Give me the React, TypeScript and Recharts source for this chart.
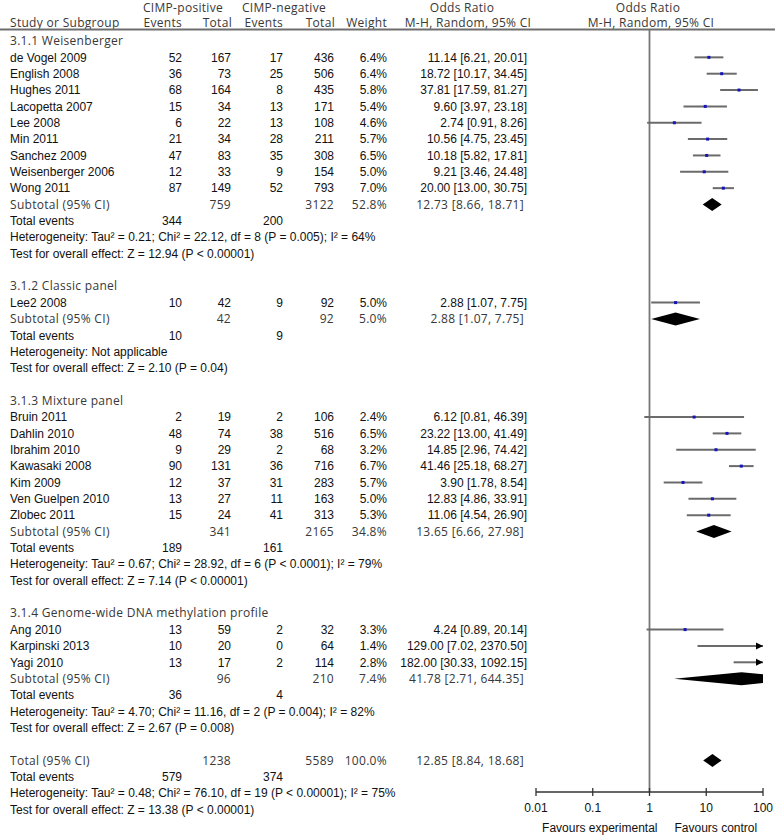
import React from 'react';
import { ScatterChart, Scatter, XAxis, YAxis, ReferenceLine } from 'recharts';

const BODY = '"Liberation Sans", Arial, sans-serif';
const HEAD = '"Open Sans", "DejaVu Sans", sans-serif';

// subgroups
const groupTitles = [
  '3.1.1 Weisenberger',
  '3.1.2 Classic panel',
  '3.1.3 Mixture panel',
  '3.1.4 Genome-wide DNA methylation profile',
];
const groupPosTotal = [759, 42, 341, 96];
const groupNegTotal = [3122, 92, 2165, 210];
const groupWeight = [52.8, 5.0, 34.8, 7.4];
const groupOR = [12.73, 2.88, 13.65, 41.78];
const groupLow = [8.66, 1.07, 6.66, 2.71];
const groupHigh = [18.71, 7.75, 27.98, 644.35];
const groupPosEvents = [344, 10, 189, 36];
const groupNegEvents = [200, 9, 161, 4];
const groupHet = [
  'Heterogeneity: Tau² = 0.21; Chi² = 22.12, df = 8 (P = 0.005); I² = 64%',
  'Heterogeneity: Not applicable',
  'Heterogeneity: Tau² = 0.67; Chi² = 28.92, df = 6 (P < 0.0001); I² = 79%',
  'Heterogeneity: Tau² = 4.70; Chi² = 11.16, df = 2 (P = 0.004); I² = 82%',
];
const groupTest = [
  'Test for overall effect: Z = 12.94 (P < 0.00001)',
  'Test for overall effect: Z = 2.10 (P = 0.04)',
  'Test for overall effect: Z = 7.14 (P < 0.00001)',
  'Test for overall effect: Z = 2.67 (P = 0.008)',
];

// studies
const studies = [
  'de Vogel 2009', 'English 2008', 'Hughes 2011', 'Lacopetta 2007', 'Lee 2008',
  'Min 2011', 'Sanchez 2009', 'Weisenberger 2006', 'Wong 2011',
  'Lee2 2008',
  'Bruin 2011', 'Dahlin 2010', 'Ibrahim 2010', 'Kawasaki 2008', 'Kim 2009',
  'Ven Guelpen 2010', 'Zlobec 2011',
  'Ang 2010', 'Karpinski 2013', 'Yagi 2010',
];
const studyGroup = [0, 0, 0, 0, 0, 0, 0, 0, 0, 1, 2, 2, 2, 2, 2, 2, 2, 3, 3, 3];
const posEvents = [52, 36, 68, 15, 6, 21, 47, 12, 87, 10, 2, 48, 9, 90, 12, 13, 15, 13, 10, 13];
const posTotal = [167, 73, 164, 34, 22, 34, 83, 33, 149, 42, 19, 74, 29, 131, 37, 27, 24, 59, 20, 17];
const negEvents = [17, 25, 8, 13, 13, 28, 35, 9, 52, 9, 2, 38, 2, 36, 31, 11, 41, 2, 0, 2];
const negTotal = [436, 506, 435, 171, 108, 211, 308, 154, 793, 92, 106, 516, 68, 716, 283, 163, 313, 32, 64, 114];
const weights = [6.4, 6.4, 5.8, 5.4, 4.6, 5.7, 6.5, 5.0, 7.0, 5.0, 2.4, 6.5, 3.2, 6.7, 5.7, 5.0, 5.3, 3.3, 1.4, 2.8];
const oddsRatio = [11.14, 18.72, 37.81, 9.60, 2.74, 10.56, 10.18, 9.21, 20.00, 2.88, 6.12, 23.22, 14.85, 41.46, 3.90, 12.83, 11.06, 4.24, 129.00, 182.00];
const ciLow = [6.21, 10.17, 17.59, 3.97, 0.91, 4.75, 5.82, 3.46, 13.00, 1.07, 0.81, 13.00, 2.96, 25.18, 1.78, 4.86, 4.54, 0.89, 7.02, 30.33];
const ciHigh = [20.01, 34.45, 81.27, 23.18, 8.26, 23.45, 17.81, 24.48, 30.75, 7.75, 46.39, 41.49, 74.42, 68.27, 8.54, 33.91, 26.90, 20.14, 2370.50, 1092.15];

// overall
const totalPosTotal = 1238;
const totalNegTotal = 5589;
const totalWeight = 100.0;
const totalOR = 12.85;
const totalLow = 8.84;
const totalHigh = 18.68;
const totalPosEvents = 579;
const totalNegEvents = 374;
const totalHet = 'Heterogeneity: Tau² = 0.48; Chi² = 76.10, df = 19 (P < 0.00001); I² = 75%';
const totalTest = 'Test for overall effect: Z = 13.38 (P < 0.00001)';

// axis
const xTicks = [0.01, 0.1, 1, 10, 100];
const xTickLabels = ['0.01', '0.1', '1', '10', '100'];
const X_MIN = 0.01;
const X_MAX = 100;

// row layout (rows are y values on the y axis, 0 = first subgroup heading)
const ROW0 = 41;
const ROW_H = 16.35;
const PLOT_TOP = 30;
const AXIS_Y = 792;
const Y_TOP = (PLOT_TOP - ROW0) / ROW_H;
const Y_BOTTOM = (AXIS_Y - ROW0) / ROW_H;

type Row = { kind: string; y: number; g?: number; i?: number };

const rows: Row[] = [];
let r = 0;
groupTitles.forEach((_, g) => {
  rows.push({ kind: 'heading', g, y: r++ });
  studies.forEach((_, i) => {
    if (studyGroup[i] === g) rows.push({ kind: 'study', i, y: r++ });
  });
  rows.push({ kind: 'subtotal', g, y: r++ });
  rows.push({ kind: 'events', g, y: r++ });
  rows.push({ kind: 'het', g, y: r++ });
  rows.push({ kind: 'test', g, y: r++ });
  r++;
});
rows.push({ kind: 'total', y: r++ });
rows.push({ kind: 'events', y: r++ });
rows.push({ kind: 'het', y: r++ });
rows.push({ kind: 'test', y: r++ });
rows.push({ kind: 'header', y: Y_TOP });

const rowMap = new Map(rows.map(row => [row.y, row]));
const yTicks = rows.map(row => row.y);
const studyRow = (i: number) => rows.find(row => row.kind === 'study' && row.i === i)!.y;
const groupRow = (g: number) => rows.find(row => row.kind === 'subtotal' && row.g === g)!.y;
const totalRow = rows.find(row => row.kind === 'total')!.y;

const ciData = studies.flatMap((_, i) => [
  { x: ciLow[i], y: studyRow(i) },
  { x: Math.min(ciHigh[i], X_MAX), y: studyRow(i), arrow: ciHigh[i] > X_MAX },
]);
const orData = studies.map((_, i) => ({ x: oddsRatio[i], y: studyRow(i) }));
const diamondData = [
  ...groupTitles.flatMap((_, g) => [
    { x: groupLow[g], y: groupRow(g) },
    { x: groupOR[g], y: groupRow(g) },
    { x: groupHigh[g], y: groupRow(g) },
  ]),
  { x: totalLow, y: totalRow },
  { x: totalOR, y: totalRow },
  { x: totalHigh, y: totalRow },
];

const fmtCI = (or: number, lo: number, hi: number) =>
  `${or.toFixed(2)} [${lo.toFixed(2)}, ${hi.toFixed(2)}]`;
const pct = (w: number) => `${w.toFixed(1)}%`;

const COL = { ev1: 182, tot1: 231, ev2: 283, tot2: 334, weight: 387, or: 527, orHead: 524 };

const bodyText = { fontFamily: BODY, fontSize: 12, fill: '#111' };
const headText = { fontFamily: HEAD, fontSize: 12, fill: '#383838', letterSpacing: 0.3 };

function T({ x, y, anchor = 'start', head = false, children }: any) {
  return (
    <text x={x} y={y} dy="0.35em" textAnchor={anchor} style={head ? headText : bodyText}>
      {children}
    </text>
  );
}

function RowTick(props: any) {
  const { y, payload } = props;
  const row = rowMap.get(payload.value);
  if (!row) return <g />;
  const L = 10;
  switch (row.kind) {
    case 'header':
      return (
        <g>
          <T x={183} y={y - 22.5} anchor="middle" head>CIMP-positive</T>
          <T x={284} y={y - 22.5} anchor="middle" head>CIMP-negative</T>
          <T x={462} y={y - 22.5} anchor="middle" head>Odds Ratio</T>
          <T x={648} y={y - 22.5} anchor="middle" head>Odds Ratio</T>
          <T x={L} y={y - 7} head>Study or Subgroup</T>
          <T x={COL.ev1} y={y - 7} anchor="end" head>Events</T>
          <T x={COL.tot1 + 1} y={y - 7} anchor="end" head>Total</T>
          <T x={COL.ev2} y={y - 7} anchor="end" head>Events</T>
          <T x={COL.tot2 + 1} y={y - 7} anchor="end" head>Total</T>
          <T x={COL.weight} y={y - 7} anchor="end" head>Weight</T>
          <T x={468} y={y - 7} anchor="middle" head>M-H, Random, 95% CI</T>
          <T x={651} y={y - 7} anchor="middle" head>M-H, Random, 95% CI</T>
          <line x1={0} x2={775} y1={y - 0.5} y2={y - 0.5} stroke="#6e6e6e" strokeWidth={2} />
        </g>
      );
    case 'heading':
      return <g><T x={L} y={y} head>{groupTitles[row.g!]}</T></g>;
    case 'study': {
      const i = row.i!;
      return (
        <g>
          <T x={L} y={y}>{studies[i]}</T>
          <T x={COL.ev1} y={y} anchor="end">{posEvents[i]}</T>
          <T x={COL.tot1} y={y} anchor="end">{posTotal[i]}</T>
          <T x={COL.ev2} y={y} anchor="end">{negEvents[i]}</T>
          <T x={COL.tot2} y={y} anchor="end">{negTotal[i]}</T>
          <T x={COL.weight} y={y} anchor="end">{pct(weights[i])}</T>
          <T x={COL.or} y={y} anchor="end">{fmtCI(oddsRatio[i], ciLow[i], ciHigh[i])}</T>
        </g>
      );
    }
    case 'subtotal': {
      const g = row.g!;
      return (
        <g>
          <T x={L} y={y} head>Subtotal (95% CI)</T>
          <T x={COL.tot1} y={y} anchor="end" head>{groupPosTotal[g]}</T>
          <T x={COL.tot2} y={y} anchor="end" head>{groupNegTotal[g]}</T>
          <T x={COL.weight} y={y} anchor="end" head>{pct(groupWeight[g])}</T>
          <T x={COL.orHead} y={y} anchor="end" head>{fmtCI(groupOR[g], groupLow[g], groupHigh[g])}</T>
        </g>
      );
    }
    case 'total':
      return (
        <g>
          <T x={L} y={y} head>Total (95% CI)</T>
          <T x={COL.tot1} y={y} anchor="end" head>{totalPosTotal}</T>
          <T x={COL.tot2} y={y} anchor="end" head>{totalNegTotal}</T>
          <T x={COL.weight} y={y} anchor="end" head>{pct(totalWeight)}</T>
          <T x={COL.orHead} y={y} anchor="end" head>{fmtCI(totalOR, totalLow, totalHigh)}</T>
        </g>
      );
    case 'events': {
      const g = row.g;
      return (
        <g>
          <T x={L} y={y}>Total events</T>
          <T x={COL.ev1} y={y} anchor="end">{g === undefined ? totalPosEvents : groupPosEvents[g]}</T>
          <T x={COL.ev2} y={y} anchor="end">{g === undefined ? totalNegEvents : groupNegEvents[g]}</T>
        </g>
      );
    }
    case 'het':
      return <g><T x={L} y={y}>{row.g === undefined ? totalHet : groupHet[row.g]}</T></g>;
    case 'test':
      return <g><T x={L} y={y}>{row.g === undefined ? totalTest : groupTest[row.g]}</T></g>;
    default:
      return <g />;
  }
}

function AxisTick(props: any) {
  const { x, y, payload } = props;
  const idx = xTicks.indexOf(payload.value);
  return (
    <g>
      <line x1={x} x2={x} y1={y - 4} y2={y + 4} stroke="#333" strokeWidth={1.3} />
      <T x={x} y={y + 16} anchor="middle">{xTickLabels[idx]}</T>
      {payload.value === 1 && (
        <>
          <T x={x + 8} y={y + 36} anchor="end">Favours experimental</T>
          <T x={x + 25} y={y + 36}>Favours control</T>
        </>
      )}
    </g>
  );
}

const ciLines = (props: any) => {
  const pts = props.points || [];
  const segs = [];
  for (let k = 0; k + 1 < pts.length; k += 2) {
    segs.push(
      <line key={k} x1={pts[k].x} y1={pts[k].y} x2={pts[k + 1].x} y2={pts[k + 1].y} stroke="#6b6b6b" strokeWidth={2} />
    );
  }
  return <g>{segs}</g>;
};

const diamonds = (props: any) => {
  const pts = props.points || [];
  const polys = [];
  const h = 6.5;
  for (let k = 0; k + 2 < pts.length; k += 3) {
    const a = pts[k], b = pts[k + 1], c = pts[k + 2];
    polys.push(
      <polygon key={k} points={`${a.x},${a.y} ${b.x},${b.y - h} ${c.x},${c.y} ${b.x},${b.y + h}`} fill="#000" />
    );
  }
  return <g>{polys}</g>;
};

const arrowShape = (props: any) => {
  const { cx, cy } = props;
  const p = props.payload || props;
  if (!p.arrow) return <g />;
  return <polygon points={`${cx},${cy} ${cx - 7},${cy - 3.5} ${cx - 7},${cy + 3.5}`} fill="#000" />;
};

const squareShape = (props: any) => {
  const { cx, cy } = props;
  return <rect x={cx - 1.5} y={cy - 1.5} width={3} height={3} fill="#1414b8" />;
};

const emptyShape = () => <g />;

export default function App() {
  return (
    <div style={{ position: 'absolute', left: 0, top: 0, width: 775, height: 836, background: '#fff' }}>
      <ScatterChart width={775} height={836} margin={{ top: PLOT_TOP, right: 12, bottom: 0, left: 535 }}>
        <XAxis
          dataKey="x"
          type="number"
          scale="log"
          domain={[X_MIN, X_MAX]}
          ticks={xTicks}
          allowDataOverflow
          interval={0}
          height={836 - AXIS_Y}
          axisLine={{ stroke: '#333', strokeWidth: 1.3 }}
          tickLine={false}
          tickSize={0}
          tickMargin={0}
          tick={<AxisTick />}
        />
        <YAxis
          dataKey="y"
          type="number"
          domain={[Y_TOP, Y_BOTTOM]}
          reversed
          ticks={yTicks}
          allowDataOverflow
          interval={0}
          width={1}
          axisLine={false}
          tickLine={false}
          tick={<RowTick />}
        />
        <ReferenceLine x={1} stroke="#777" strokeWidth={1.8} />
        <Scatter data={ciData} line={ciLines} shape={arrowShape} isAnimationActive={false} />
        <Scatter data={orData} shape={squareShape} isAnimationActive={false} />
        <Scatter data={diamondData} line={diamonds} shape={emptyShape} isAnimationActive={false} />
      </ScatterChart>
    </div>
  );
}
